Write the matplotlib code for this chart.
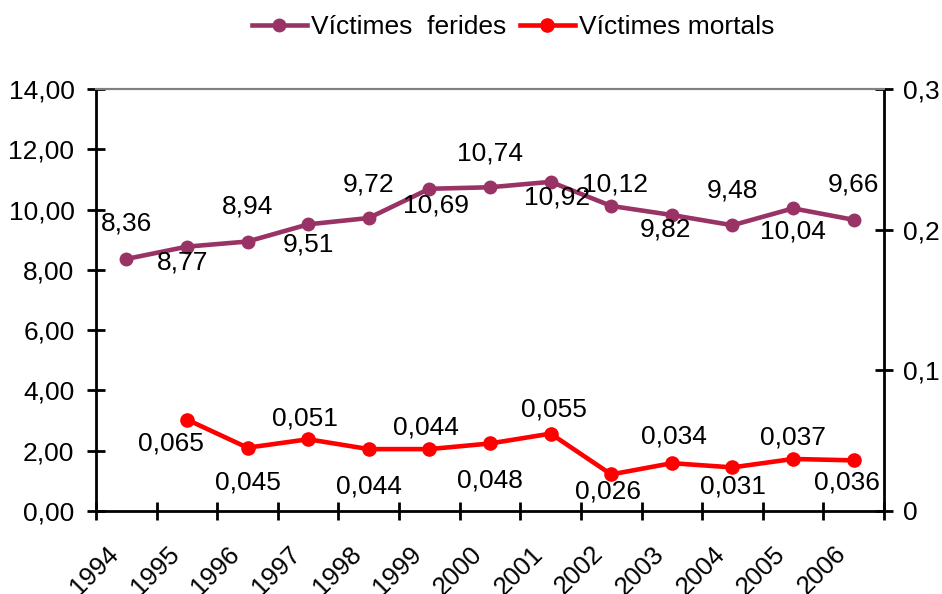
import matplotlib
matplotlib.use("Agg")
import matplotlib.pyplot as plt
import numpy as np
from matplotlib.ticker import FixedLocator
from matplotlib.transforms import ScaledTranslation

plt.rcParams['font.family'] = ['Liberation Sans', 'DejaVu Sans']

# data
years = ['1994', '1995', '1996', '1997', '1998', '1999', '2000',
         '2001', '2002', '2003', '2004', '2005', '2006']
ferides = [8.36, 8.77, 8.94, 9.51, 9.72, 10.69, 10.74,
           10.92, 10.12, 9.82, 9.48, 10.04, 9.66]
mortals_years = years[1:]
mortals = [0.065, 0.045, 0.051, 0.044, 0.044, 0.048,
           0.055, 0.026, 0.034, 0.031, 0.037, 0.036]

left_ticks = [0, 2, 4, 6, 8, 10, 12, 14]
right_ticks = [0, 0.1, 0.2, 0.3]

# label offsets (pixels) relative to each point, as placed in the original
ferides_off = [(0, 36), (-4, -16), (0, 35), (0, -20), (0, 34), (7, -17), (0, 34),
               (6, -16), (4, 21), (-6, -15), (0, 35), (0, -23), (0, 35)]
mortals_off = [(-16, -24), (0, -35), (-3, 21), (0, -37), (-3, 22), (0, -37),
               (3, 24), (-3, -17), (2, 27), (0, -19), (0, 21), (-7, -22)]

purple = '#993366'
red = '#ff0000'
fs = 19

fig = plt.figure(figsize=(9.42, 5.94), dpi=100)
ax = fig.add_axes([96 / 942, 1 - 511 / 594, (884 - 96) / 942, (511 - 89) / 594])
ax2 = ax.twinx()

x = np.arange(len(years))
xm = np.array([years.index(y) for y in mortals_years])

l1, = ax.plot(x, ferides, color=purple, lw=3.3, marker='o', ms=9,
              label='Víctimes  ferides', zorder=3)
l2, = ax2.plot(xm, mortals, color=red, lw=3.3, marker='o', ms=9.5,
               label='Víctimes mortals', zorder=3)

def fmt(v, nd):
    return f'{v:.{nd}f}'.replace('.', ',')

for xi, v, (dx, dy) in zip(x, ferides, ferides_off):
    ax.annotate(fmt(v, 2), (xi, v), xytext=(dx, dy), textcoords='offset pixels',
                ha='center', va='center', fontsize=fs)
for xi, v, (dx, dy) in zip(xm, mortals, mortals_off):
    ax2.annotate(fmt(v, 3), (xi, v), xytext=(dx, dy), textcoords='offset pixels',
                 ha='center', va='center', fontsize=fs)

ax.set_xlim(-0.5, len(years) - 0.5)
ax.set_ylim(0, 14)
ax2.set_ylim(0, 0.3)

ax.set_yticks(left_ticks)
ax.set_yticklabels([fmt(t, 2) for t in left_ticks], fontsize=fs)
ax2.set_yticks(right_ticks)
ax2.set_yticklabels(['0' if t == 0 else fmt(t, 1) for t in right_ticks], fontsize=fs)

ax.xaxis.set_major_locator(FixedLocator(np.arange(-0.5, len(years), 1.0)))
ax.xaxis.set_minor_locator(FixedLocator(x))
ax.set_xticklabels([], minor=False)
ax.tick_params(axis='x', which='minor', length=0, pad=22)
ax.tick_params(axis='x', which='major', direction='inout', length=13, width=2)
ax.tick_params(axis='y', direction='inout', length=13, width=2, pad=9)
ax2.tick_params(axis='y', direction='inout', length=13, width=2, pad=7)
ax.set_xticklabels(years, minor=True, rotation=45, ha='right', va='top',
                   rotation_mode='anchor', fontsize=18.5)
# year labels sit a bit left of the category centre, as in Excel
shift = ScaledTranslation(-20 / 100, 0, fig.dpi_scale_trans)
for lab in ax.get_xticklabels(minor=True):
    lab.set_transform(lab.get_transform() + shift)

for a in (ax, ax2):
    a.spines['top'].set_color('#808080')
    a.spines['top'].set_linewidth(1.5)
ax.spines['left'].set_linewidth(2)
ax.spines['bottom'].set_linewidth(2)
ax.spines['right'].set_visible(False)
ax2.spines['left'].set_visible(False)
ax2.spines['bottom'].set_visible(False)
ax2.spines['right'].set_linewidth(2)

fig.legend(handles=[l1, l2], loc='center', bbox_to_anchor=(513 / 942, 1 - 27 / 594),
           ncol=2, frameon=False, fontsize=fs, handlelength=2.1,
           handletextpad=0.15, columnspacing=0.5)

fig.savefig('out.png', dpi=100)
